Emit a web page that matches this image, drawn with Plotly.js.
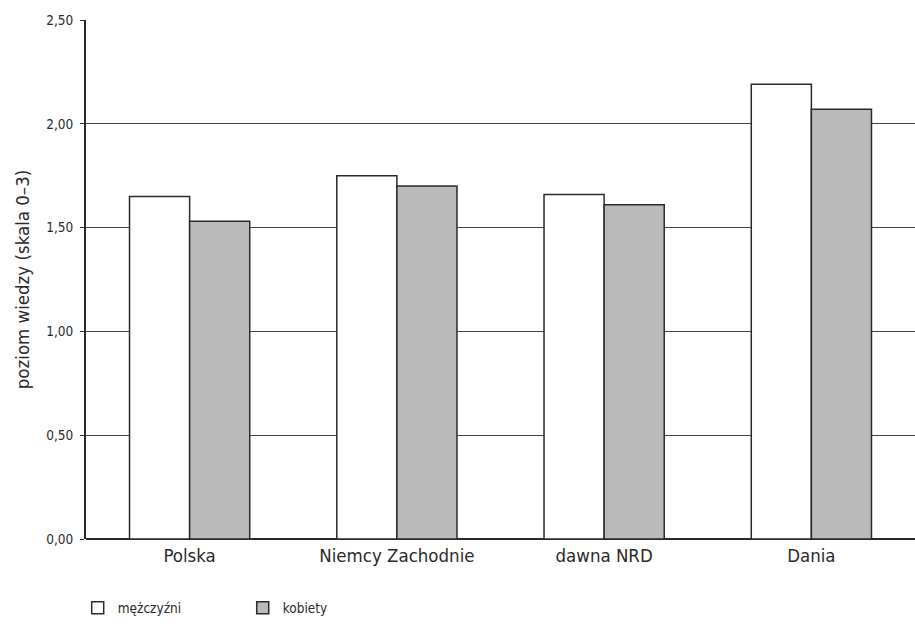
<!DOCTYPE html>
<html>
<head>
<meta charset="utf-8">
<script src="https://cdn.plot.ly/plotly-3.0.1.min.js"></script>
<style>html,body{margin:0;padding:0;background:#fff;}#chart{width:915px;height:624px;}</style>
</head>
<body>
<div id="chart"></div>
<script>
var categories = ["Polska", "Niemcy Zachodnie", "dawna NRD", "Dania"];
var seriesNames = ["mężczyźni", "kobiety"];
var menValues = [1.65, 1.75, 1.66, 2.19];
var womenValues = [1.53, 1.70, 1.61, 2.07];
var yTickVals = [0, 0.5, 1.0, 1.5, 2.0, 2.5];

var FONT = '"DejaVu Sans Condensed", "Liberation Sans", sans-serif';

var traces = [
  {
    type: 'bar', name: seriesNames[0], x: categories, y: menValues,
    marker: {color: '#ffffff', line: {color: '#2a2a2a', width: 1.5}}
  },
  {
    type: 'bar', name: seriesNames[1], x: categories, y: womenValues,
    marker: {color: '#bababa', line: {color: '#2a2a2a', width: 1.5}}
  }
];

var layout = {
  width: 915, height: 624,
  margin: {l: 86, r: 0, t: 20, b: 85},
  paper_bgcolor: '#ffffff', plot_bgcolor: '#ffffff',
  separators: ', ',
  font: {family: FONT, color: '#2a2a2a'},
  barmode: 'group', bargap: 0.42, bargroupgap: 0,
  showlegend: true,
  legend: {
    orientation: 'h', x: -0.01, xanchor: 'left', y: -0.133, yanchor: 'middle',
    font: {family: FONT, size: 13.5, color: '#2a2a2a'},
    entrywidth: 120, entrywidthmode: 'pixels', traceorder: 'normal'
  },
  xaxis: {
    type: 'category', showgrid: false, zeroline: false,
    showline: false, ticks: '',
    tickfont: {family: FONT, size: 18.5, color: '#2a2a2a'},
    ticklabelstandoff: 3,
    automargin: false
  },
  yaxis: {
    range: [0, 2.5], tickvals: yTickVals, tickformat: '.2f',
    showgrid: true, gridcolor: '#444444', gridwidth: 1,
    zeroline: true, zerolinecolor: '#2a2a2a', zerolinewidth: 2,
    showline: true, linecolor: '#2a2a2a', linewidth: 2,
    ticks: 'outside', ticklen: 4, tickcolor: '#2a2a2a',
    ticklabelstandoff: 4,
    tickfont: {family: FONT, size: 13.5, color: '#2a2a2a'},
    title: {text: 'poziom wiedzy (skala 0–3)', font: {family: FONT, size: 18.5, color: '#2a2a2a'}, standoff: 12},
    automargin: false
  }
};

Plotly.newPlot('chart', traces, layout, {displayModeBar: false, staticPlot: true});
</script>
</body>
</html>
